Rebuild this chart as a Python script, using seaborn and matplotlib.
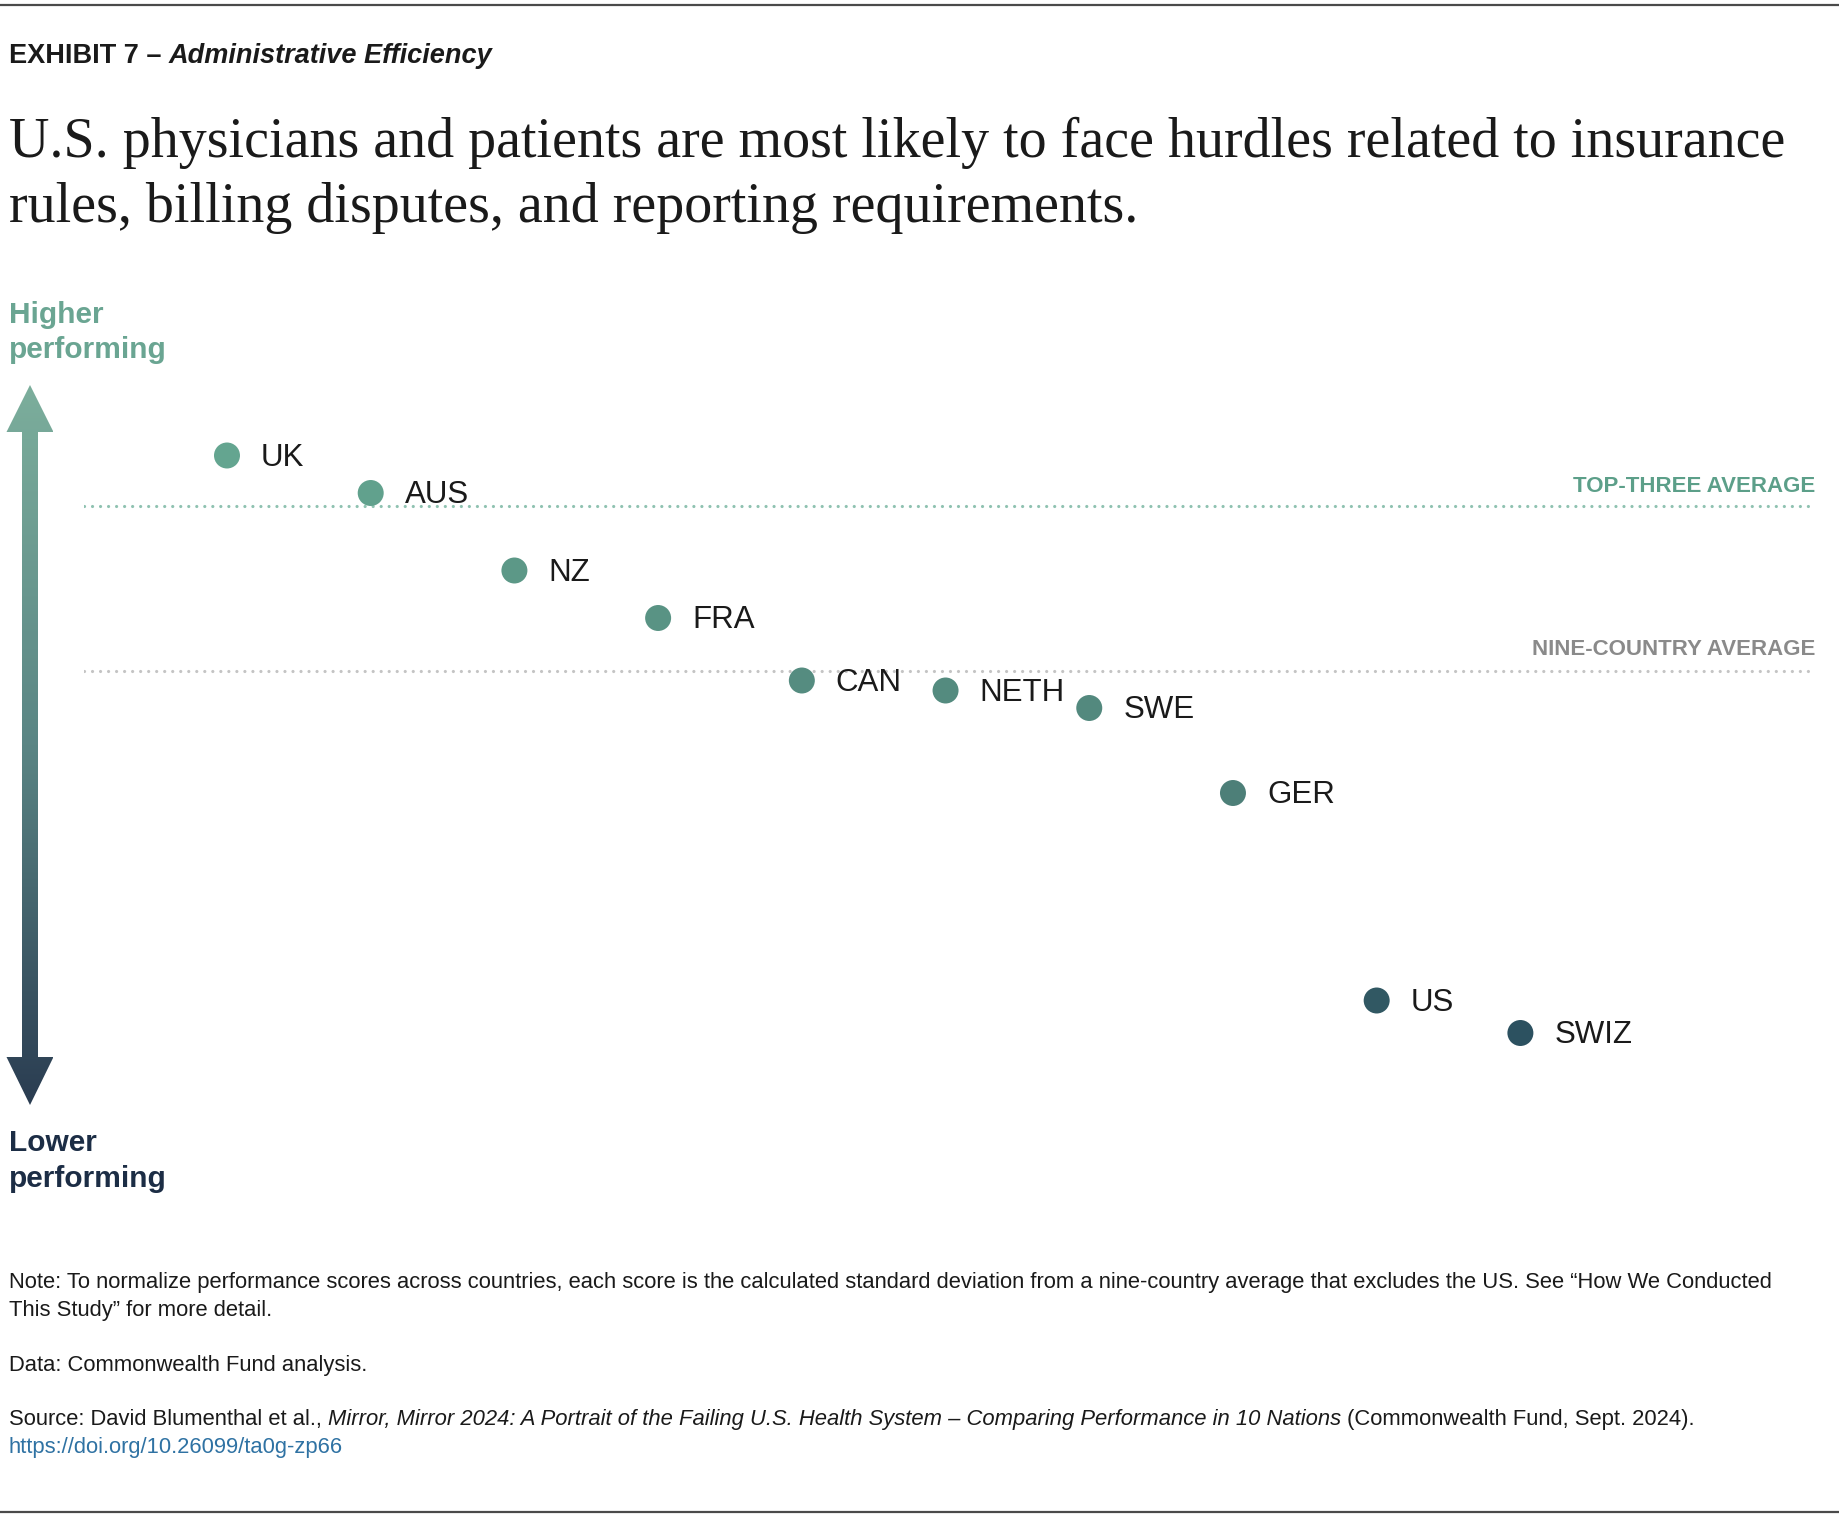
import numpy as np
import pandas as pd
import matplotlib
matplotlib.use("Agg")
import matplotlib.pyplot as plt
import seaborn as sns
from matplotlib.colors import LinearSegmentedColormap, Normalize
from matplotlib.path import Path
from matplotlib.patches import PathPatch
from matplotlib.transforms import blended_transform_factory

# ---------------------------------------------------
# DATA (standard deviations from nine-country average)
# ---------------------------------------------------

countries = ["UK", "AUS", "NZ", "FRA", "CAN", "NETH", "SWE", "GER", "US", "SWIZ"]
scores = [0.87, 0.72, 0.41, 0.22, -0.03, -0.07, -0.14, -0.48, -1.31, -1.44]

df = pd.DataFrame({"country": countries, "score": scores})
df["rank"] = np.arange(len(df))

nine_avg = df.loc[df["country"] != "US", "score"].mean()
top3_avg = df.nlargest(3, "score")["score"].mean()

# ---------------------------------------------------
# STYLE
# ---------------------------------------------------

sns.set_theme(style="white")
plt.rcParams["font.family"] = ["Liberation Sans", "DejaVu Sans"]

W, H = 1840, 1524
fig = plt.figure(figsize=(W / 100, H / 100), dpi=100)
fig.patch.set_facecolor("white")

# overlay axes in pixel coords for decorations
ovl = fig.add_axes([0, 0, 1, 1], zorder=0)
ovl.axis("off")


def fx(px):
    return px / W


def fy(py):
    return 1 - py / H


# ---------------------------------------------------
# MAIN SCATTER
# ---------------------------------------------------

ax = fig.add_axes([fx(84), fy(1120), fx(1815) - fx(84), fy(380) - fy(1120)], zorder=2)
ax.set_facecolor("none")

dot_cmap = LinearSegmentedColormap.from_list(
    "perf", [(0.0, "#2c5160"), (0.42, "#4e8078"), (1.0, "#64a690")]
)
norm = Normalize(vmin=-1.45, vmax=0.9)
palette = {c: dot_cmap(norm(s)) for c, s in zip(countries, scores)}

ax.axhline(top3_avg, color="#8fc2b1", lw=2.3, ls=(0, (0.01, 2.5)),
           dash_capstyle="round", zorder=1)
ax.axhline(nine_avg, color="#c4c4c4", lw=2.3, ls=(0, (0.01, 2.5)),
           dash_capstyle="round", zorder=1)

sns.scatterplot(
    data=df,
    x="rank",
    y="score",
    hue="country",
    palette=palette,
    s=350,
    linewidth=0,
    legend=False,
    ax=ax,
    zorder=3
)

for _, row in df.iterrows():
    ax.annotate(
        row["country"],
        (row["rank"], row["score"]),
        xytext=(24.5, -1.5),
        textcoords="offset points",
        va="center",
        ha="left",
        fontsize=22.5,
        color="#1a1a1a",
        zorder=4
    )

trans = blended_transform_factory(ax.transAxes, ax.transData)
ax.annotate("TOP-THREE AVERAGE", (1.0, top3_avg), xycoords=trans,
            xytext=(0, 10.5), textcoords="offset points",
            ha="right", va="baseline", fontsize=16, fontweight="bold",
            color="#5c9f89")
ax.annotate("NINE-COUNTRY AVERAGE", (1.0, nine_avg), xycoords=trans,
            xytext=(0, 11.5), textcoords="offset points",
            ha="right", va="baseline", fontsize=16, fontweight="bold",
            color="#8a8a8a")

ax.set_xlim(-0.995, 11.05)
ax.set_ylim((673 - 1120) / 250, (673 - 380) / 250)
ax.axis("off")

# ---------------------------------------------------
# ARROW WITH GRADIENT
# ---------------------------------------------------

cx, sw, hw = 30, 8, 23.5
t_tip, t_base, b_base, b_tip = 385, 432, 1057, 1105
verts = [
    (cx, t_tip), (cx + hw, t_base), (cx + sw, t_base), (cx + sw, b_base),
    (cx + hw, b_base), (cx, b_tip), (cx - hw, b_base), (cx - sw, b_base),
    (cx - sw, t_base), (cx - hw, t_base), (cx, t_tip)
]
arrow_patch = PathPatch(Path(verts, closed=True), facecolor="none",
                        edgecolor="none", transform=ovl.transData)
ovl.add_patch(arrow_patch)
arrow_cmap = LinearSegmentedColormap.from_list("arr", ["#7cae9c", "#5a8584", "#2a3c51"])
grad = np.linspace(0, 1, 256).reshape(-1, 1)
im = ovl.imshow(grad, cmap=arrow_cmap, extent=(cx - hw, cx + hw, b_tip, t_tip),
                aspect="auto", interpolation="bilinear")
im.set_clip_path(arrow_patch)

ovl.set_xlim(0, W)
ovl.set_ylim(H, 0)

# ---------------------------------------------------
# RULES AND TEXT
# ---------------------------------------------------

ovl.plot([0, W], [5, 5], color="#4a4a4a", lw=1.6)
ovl.plot([0, W], [1512, 1512], color="#4a4a4a", lw=1.6)

renderer = fig.canvas.get_renderer()


def seq_text(x, y, parts, size, color="#1a1a1a", gap=0.28):
    for i, (txt, kw) in enumerate(parts):
        t = ovl.text(x, y, txt, fontsize=size, color=color, va="baseline",
                     ha="left", **kw)
        bb = t.get_window_extent(renderer=renderer)
        x = ovl.transData.inverted().transform((bb.x1, bb.y0))[0]
        x += gap * size * 100 / 72
    return x


seq_text(9, 63, [("EXHIBIT 7 –", {"fontweight": "bold"}),
                 ("Administrative Efficiency",
                  {"fontweight": "bold", "fontstyle": "italic"})],
         19.5, color="#1a1a1a", gap=0.25)

serif = ["Liberation Serif", "DejaVu Serif"]
h1 = ovl.text(9, 157, "U.S. physicians and patients are most likely to face hurdles related to insurance",
              fontsize=40, family=serif, color="#1a1a1a", va="baseline")
bb = h1.get_window_extent(renderer=renderer)
head_size = 40 * 1775 / bb.width
h1.set_fontsize(head_size)
ovl.text(9, 222, "rules, billing disputes, and reporting requirements.",
         fontsize=head_size, family=serif, color="#1a1a1a", va="baseline")

ovl.text(9, 323, "Higher", fontsize=21.5, fontweight="bold", color="#6aa592", va="baseline")
ovl.text(9, 358, "performing", fontsize=21.5, fontweight="bold", color="#6aa592", va="baseline")
ovl.text(9, 1151, "Lower", fontsize=21.5, fontweight="bold", color="#1c2d45", va="baseline")
ovl.text(9, 1187, "performing", fontsize=21.5, fontweight="bold", color="#1c2d45", va="baseline")

note_size = 15.8
ovl.text(9, 1288,
         "Note: To normalize performance scores across countries, each score is the calculated "
         "standard deviation from a nine-country average that excludes the US. See \u201cHow We Conducted",
         fontsize=note_size, color="#1a1a1a", va="baseline")
ovl.text(9, 1316, "This Study\u201d for more detail.",
         fontsize=note_size, color="#1a1a1a", va="baseline")
ovl.text(9, 1371, "Data: Commonwealth Fund analysis.",
         fontsize=note_size, color="#1a1a1a", va="baseline")
seq_text(9, 1425,
         [("Source: David Blumenthal et al.,", {}),
          ("Mirror, Mirror 2024: A Portrait of the Failing U.S. Health System \u2013 "
           "Comparing Performance in 10 Nations", {"fontstyle": "italic"}),
          ("(Commonwealth Fund, Sept. 2024).", {})],
         note_size)
ovl.text(9, 1453, "https://doi.org/10.26099/ta0g-zp66",
         fontsize=note_size, color="#2f72a3", va="baseline")

fig.savefig("out.png", dpi=100, facecolor="white")
